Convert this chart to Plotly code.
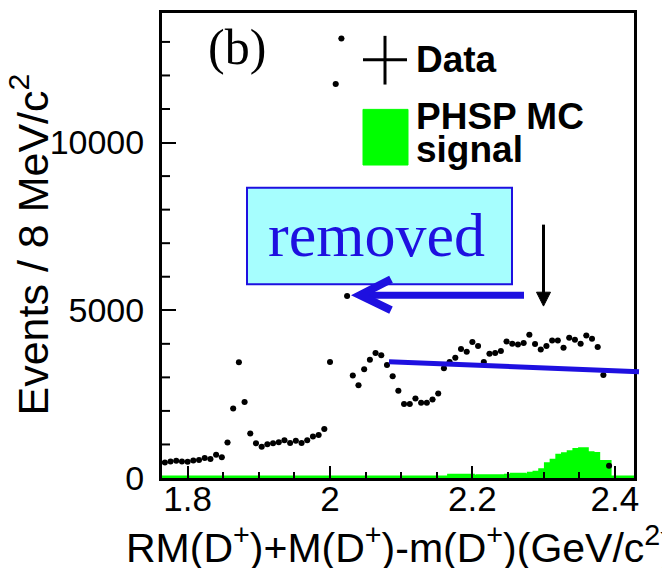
import numpy as np
import plotly.graph_objects as go

# ---------------- data ----------------
data_bin_width = 0.008
data_first_center = 1.768
data_values = [464, 494, 514, 494, 484, 524, 534, 593, 563, 692,
               622, 1057, 2075, 3448, 2262, 1324, 1037, 929, 1008, 1037,
               1067, 1126, 1047, 1107, 1047, 1126, 1235, 1284, 1462, 3458,
               11746, 13100, 5424, 3053, 2766, 3241, 3527, 3725, 3656, 3369,
               3033, 2598, 2203, 2203, 2371, 2243, 2243, 2342, 2519, 3270,
               3458, 3586, 3843, 3764, 4051, 3932, 3458, 3705, 3725, 3784,
               4071, 4001, 3982, 4021, 4268, 3992, 3833, 3932, 4100, 4100,
               3883, 4179, 4120, 4001, 4248, 4150, 3903, 3073, 366]

mc_first_edge = 1.760
mc_values = [0, 0, 0, 0, 0, 0, 0, 0, 0, 0,
             0, 0, 0, 0, 0, 0, 0, 0, 0, 0,
             0, 0, 0, 0, 0, 0, 0, 0, 0, 0,
             0, 0, 0, 0, 0, 0, 0, 0, 0, 0,
             0, 0, 0, 0, 0, 0, 0, 0, 0, 0,
             0, 50, 50, 50, 50, 20, 40, 40, 40, 40,
             40, 50, 80, 80, 70, 110, 145, 215, 392, 502,
             650, 695, 750, 820, 845, 725, 700, 465, 465, 0,
             0, 0, 0, 0]

x_tickvals = [1.8, 2.0, 2.2, 2.4]
x_ticktext = ["1.8", "2", "2.2", "2.4"]
y_tickvals = [0, 5000, 10000]
y_ticktext = ["0", "5000", "10000"]
y_minor_vals = [1000, 2000, 3000, 4000, 6000, 7000, 8000, 9000, 11000, 12000, 13000]

x_title = "RM(D<sup>+</sup>)+M(D<sup>+</sup>)-m(D<sup>+</sup>)(GeV/c<sup>2</sup>)"
y_title = "Events / 8 MeV/c<sup>2</sup>"

# ---------------- geometry ----------------
W, H = 662, 568
PL, PR, PT, PB = 162, 634, 10, 478


def px(x):
    return (x - PL) / (PR - PL)


def py(y):
    return (PB - y) / (PB - PT)


data_x = np.round(data_first_center + data_bin_width * np.arange(len(data_values)), 4)
mc_edges = np.round(mc_first_edge + data_bin_width * np.arange(len(mc_values) + 1), 4)
mc_x = list(mc_edges)
mc_y = list(mc_values) + [mc_values[-1]]

BLUE = "#1e10e0"
GREEN = "#00ff00"
SANS = "Liberation Sans, Arial, sans-serif"
SERIF = "Liberation Serif, Times New Roman, serif"

fig = go.Figure()

fig.add_trace(go.Scatter(
    x=mc_x, y=mc_y, mode="lines", line=dict(shape="hv", color=GREEN, width=5),
    fill="tozeroy", fillcolor=GREEN, name="PHSP MC signal", showlegend=False,
    hoverinfo="skip"))

fig.add_trace(go.Scatter(
    x=data_x, y=data_values, mode="markers",
    marker=dict(color="black", size=6),
    error_x=dict(type="constant", value=data_bin_width / 2, thickness=1, width=0, color="black"),
    name="Data", showlegend=False))

shapes = []
# y minor ticks (inside, on the left axis)
for v in y_minor_vals:
    shapes.append(dict(type="line", xref="paper", yref="y",
                       x0=0, x1=8 / (PR - PL), y0=v, y1=v,
                       line=dict(color="black", width=2), layer="above"))
# legend: data cross
shapes.append(dict(type="line", xref="paper", yref="paper",
                   x0=px(363), x1=px(407), y0=py(57), y1=py(57),
                   line=dict(color="black", width=3)))
shapes.append(dict(type="line", xref="paper", yref="paper",
                   x0=px(385), x1=px(385), y0=py(82), y1=py(33),
                   line=dict(color="black", width=3)))
# legend: green box
shapes.append(dict(type="rect", xref="paper", yref="paper",
                   x0=px(363), x1=px(408), y0=py(163), y1=py(107),
                   fillcolor=GREEN, line=dict(color=GREEN, width=1)))
# cyan "removed" box
shapes.append(dict(type="rect", xref="paper", yref="paper",
                   x0=px(247), x1=px(512), y0=py(283), y1=py(186),
                   fillcolor="#a6fefe", line=dict(color=BLUE, width=2)))
# blue arrow shaft
shapes.append(dict(type="line", xref="paper", yref="paper",
                   x0=px(364), x1=px(524), y0=py(294), y1=py(294),
                   line=dict(color=BLUE, width=7)))
# blue arrow chevron
shapes.append(dict(type="path", xref="paper", yref="paper",
                   path=f"M {px(391)},{py(278)} L {px(360)},{py(294)} L {px(391)},{py(309)}",
                   line=dict(color=BLUE, width=8)))
# black vertical arrow
shapes.append(dict(type="line", xref="paper", yref="paper",
                   x0=px(543.5), x1=px(543.5), y0=py(223), y1=py(294),
                   line=dict(color="black", width=3)))
shapes.append(dict(type="path", xref="paper", yref="paper",
                   path=f"M {px(536.5)},{py(291)} L {px(543.5)},{py(305)} L {px(550.5)},{py(291)} Z",
                   fillcolor="black", line=dict(color="black", width=1)))
# blue sloping line
shapes.append(dict(type="line", xref="paper", yref="paper",
                   x0=px(389), x1=px(639), y0=py(361), y1=py(371),
                   line=dict(color=BLUE, width=5)))

annotations = [
    dict(text="(b)", xref="paper", yref="paper", x=px(237), y=py(44),
         xanchor="center", yanchor="middle", showarrow=False,
         font=dict(family=SERIF, size=50, color="black")),
    dict(text="<b>Data</b>", xref="paper", yref="paper", x=px(414), y=py(57),
         xanchor="left", yanchor="middle", showarrow=False,
         font=dict(family=SANS, size=37, color="black")),
    dict(text="<b>PHSP MC</b>", xref="paper", yref="paper", x=px(414), y=py(114),
         xanchor="left", yanchor="middle", showarrow=False,
         font=dict(family=SANS, size=37, color="black")),
    dict(text="<b>signal</b>", xref="paper", yref="paper", x=px(414), y=py(147),
         xanchor="left", yanchor="middle", showarrow=False,
         font=dict(family=SANS, size=37, color="black")),
    dict(text="removed", xref="paper", yref="paper", x=px(376), y=py(233),
         xanchor="center", yanchor="middle", showarrow=False,
         font=dict(family=SERIF, size=62, color=BLUE)),
    dict(text=y_title, xref="paper", yref="paper", x=px(29), y=py(243),
         xanchor="center", yanchor="middle", showarrow=False, textangle=-90,
         font=dict(family=SANS, size=43, color="black")),
    dict(text=x_title, xref="paper", yref="paper", x=px(400), y=py(545),
         xanchor="center", yanchor="middle", showarrow=False,
         font=dict(family=SANS, size=41, color="black")),
]

fig.update_layout(
    width=W, height=H,
    margin=dict(l=PL, r=W - PR, t=PT, b=H - PB, pad=0),
    paper_bgcolor="white", plot_bgcolor="white",
    showlegend=False,
    shapes=shapes, annotations=annotations,
    xaxis=dict(range=[1.764, 2.427], tickvals=x_tickvals, ticktext=x_ticktext,
               ticks="inside", ticklen=12, tickwidth=2, tickcolor="black",
               minor=dict(dtick=0.05, tick0=1.8, ticks="inside", ticklen=6, tickwidth=2, tickcolor="black"),
               showline=True, linewidth=3, linecolor="black", mirror=True,
               showgrid=False, zeroline=False, ticklabelstandoff=-12,
               tickfont=dict(family=SANS, size=35, color="black")),
    yaxis=dict(range=[0, 13862], tickvals=y_tickvals, ticktext=y_ticktext,
               ticks="inside", ticklen=14, tickwidth=2, tickcolor="black",
               showline=True, linewidth=3, linecolor="black", mirror=True,
               showgrid=False, zeroline=False, ticklabelstandoff=8,
               tickfont=dict(family=SANS, size=34, color="black")),
)

fig.write_html("out.html", config={"displayModeBar": False},
               post_script="document.body.style.margin='0';")
